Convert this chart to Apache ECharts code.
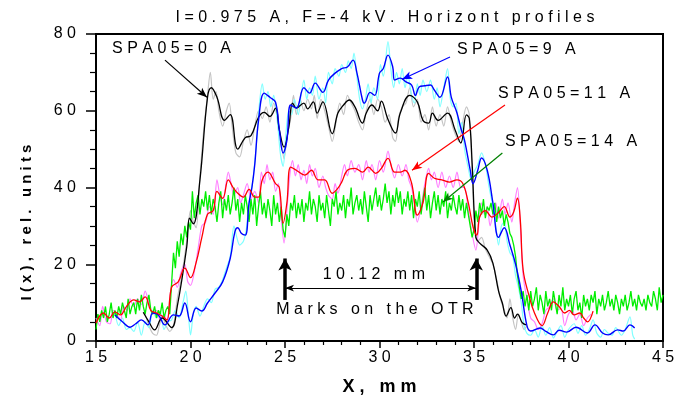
<!DOCTYPE html>
<html>
<head>
<meta charset="utf-8">
<script src="https://cdn.jsdelivr.net/npm/echarts@6/dist/echarts.min.js"></script>
<style>
  html, body { margin: 0; padding: 0; background: #fff; }
  #chart { width: 687px; height: 405px; }
</style>
</head>
<body>
<div id="chart"></div>
<script>
// SPA05 = 0 A, smoothed (black) and raw (gray)
const spa0 = [[17.5,7.5],[17.8,5],[18.1,2.9],[18.5,6],[19.0,3.5],[19.3,9],[19.8,24.5],[19.95,32],[20.15,30.5],[20.5,42],[20.9,63.5],[21.1,66],[21.4,63.5],[21.8,57.5],[22.1,59],[22.5,50],[22.9,53],[23.2,53.5],[23.6,58.3],[23.9,59.6],[24.2,58.5],[24.5,60.7],[24.7,55],[24.95,50.5],[25.2,55.7],[25.4,62],[25.6,60.7],[26.0,62],[26.2,60.5],[26.5,62.3],[26.7,59.4],[27.0,62.3],[27.5,54],[27.8,59.4],[28.1,61.5],[28.4,62.8],[28.7,61],[29.1,56.8],[29.3,59.4],[29.6,61.5],[29.9,60],[30.1,62.5],[30.4,58.4],[30.7,55],[30.85,54.2],[31.1,59.4],[31.6,64],[32.0,62.3],[32.3,57.5],[32.6,56.8],[32.8,59.4],[33.1,57.5],[33.6,59.4],[34.0,55],[34.3,51.6],[34.6,58.9],[34.75,58],[34.9,46.4],[35.1,27],[35.3,25.5],[35.7,23.7],[36.0,20.3],[36.3,13],[36.5,9.9],[36.7,6.5],[36.95,8.7],[37.15,6],[37.3,7],[37.55,4.8],[37.75,4.2]];
const spa0raw = [[17.6,7],[17.8,4],[18.0,2],[18.2,1.5],[18.35,4],[18.5,6.5],[18.7,4],[18.9,2.5],[19.1,4],[19.3,11],[19.5,16],[19.8,26],[20.0,34],[20.15,31],[20.3,29.5],[20.5,43],[20.7,55],[20.9,64],[21.05,70],[21.2,63],[21.35,65],[21.5,60],[21.7,56],[21.9,60],[22.05,62],[22.2,56],[22.4,49],[22.6,48],[22.8,52],[23.0,55],[23.2,51],[23.4,56],[23.6,60],[23.8,58],[24.0,61],[24.2,57],[24.4,62],[24.6,58],[24.8,52],[24.95,47.5],[25.1,53],[25.3,58],[25.45,64],[25.6,59],[25.8,63],[26.0,60],[26.2,63],[26.4,60.5],[26.55,64],[26.7,58],[26.9,63],[27.1,60],[27.3,56],[27.5,52],[27.7,57],[27.9,62],[28.1,59],[28.3,64],[28.5,62],[28.7,60],[28.9,57],[29.1,55],[29.3,60],[29.5,63],[29.7,59],[29.9,63],[30.1,61],[30.3,57],[30.5,59],[30.7,53],[30.85,52],[31.0,58],[31.2,61],[31.4,62],[31.6,66],[31.8,61],[32.0,63],[32.2,57],[32.4,59],[32.6,55],[32.8,61],[33.0,56],[33.2,59],[33.4,56],[33.6,61],[33.8,57],[34.0,54],[34.2,52],[34.4,57],[34.6,61],[34.75,59],[34.9,44],[35.05,28],[35.2,26],[35.4,27],[35.6,24],[35.8,22],[36.0,20],[36.2,16],[36.4,11],[36.6,8],[36.75,6],[36.9,11],[37.05,6],[37.2,3],[37.35,7],[37.5,5],[37.65,3],[37.8,4]];

// SPA05 = 9 A, smoothed (blue) and raw (cyan)
const spa9 = [[16.0,6.8],[16.4,5],[16.8,3.6],[17.1,4.5],[17.4,5.5],[17.75,4.2],[18.0,7.3],[18.3,6.8],[18.65,4.2],[19.1,6.8],[19.4,6.5],[19.7,9.9],[20.0,5],[20.3,8.6],[20.6,7.8],[20.9,9.9],[21.3,12.5],[21.7,15.4],[22.1,21.5],[22.35,28.5],[22.5,29.5],[22.7,28],[22.9,27.6],[23.1,36],[23.25,40],[23.4,46],[23.6,57.5],[23.9,64.6],[24.2,63.5],[24.5,62.2],[24.7,55],[24.9,49],[25.1,52.3],[25.3,61.5],[25.6,60.7],[26.0,66],[26.3,64.6],[26.6,67.2],[27.0,64.8],[27.3,68],[27.65,69.8],[28.0,71],[28.3,71.4],[28.6,73.2],[28.8,70],[29.1,62.8],[29.2,62],[29.5,64.8],[29.75,64],[30.0,69.8],[30.2,71],[30.45,74.5],[30.7,71.4],[30.8,68],[31.1,68.5],[31.4,67.5],[31.7,66.7],[31.9,64],[32.1,66.2],[32.4,66.5],[32.7,66.7],[32.9,65.4],[33.2,63.5],[33.6,68.8],[33.8,63.5],[34.1,59.4],[34.3,55.5],[34.5,52.3],[34.8,44.5],[34.95,41],[35.2,44.5],[35.4,47.7],[35.7,44.5],[36.0,36],[36.3,27],[36.6,29.5],[36.9,25],[37.2,20],[37.5,13],[37.8,4],[38.0,2.6],[38.5,3.4],[38.8,2.5],[39.2,1.6],[39.5,2.8],[39.9,2.3],[40.4,3.6],[41.0,2.1],[41.4,4.2],[41.8,2.1],[42.1,1.6],[42.6,2.9],[42.9,2.6],[43.25,4.2],[43.5,3.4]];
const spa9raw = [[16.0,7.5],[16.2,4],[16.4,6],[16.6,3],[16.8,3.5],[17.0,2.5],[17.2,5],[17.4,1.5],[17.6,5],[17.8,3.5],[18.0,8],[18.2,6],[18.4,7.5],[18.6,3],[18.8,5],[19.0,5.5],[19.2,8],[19.4,6],[19.6,10],[19.75,13],[19.9,6],[20.0,1.6],[20.15,7],[20.3,9],[20.5,6.5],[20.7,9],[20.9,11],[21.1,10],[21.3,13.5],[21.5,14],[21.7,16],[21.9,19],[22.1,22],[22.3,30],[22.45,27],[22.6,25],[22.8,26],[22.95,29],[23.1,36],[23.3,42],[23.5,52],[23.65,62],[23.8,67],[23.95,63],[24.1,65],[24.25,61],[24.4,64],[24.6,57],[24.75,49],[24.9,45.5],[25.05,54],[25.2,60],[25.35,59],[25.5,63],[25.7,59],[25.85,64],[26.0,68],[26.15,63],[26.3,66],[26.45,64],[26.6,69],[26.8,63],[27.0,66],[27.15,62],[27.3,70],[27.5,67],[27.65,71],[27.85,69],[28.0,72],[28.2,70],[28.35,73],[28.5,71],[28.65,75],[28.8,69],[28.95,63],[29.1,60.5],[29.25,63],[29.4,67],[29.55,62],[29.7,66],[29.9,63],[30.05,72],[30.2,69],[30.45,78],[30.6,71],[30.75,66],[30.9,70],[31.05,67],[31.2,71],[31.35,66],[31.5,69],[31.7,64],[31.85,62],[32.0,67],[32.15,64],[32.3,68],[32.5,65],[32.7,68],[32.9,63],[33.05,66],[33.2,61],[33.4,66],[33.6,71],[33.75,63],[33.9,61],[34.05,62],[34.2,54],[34.35,57],[34.5,50],[34.7,45],[34.85,42],[35.0,44],[35.2,46],[35.4,49],[35.6,46],[35.8,40],[36.0,35],[36.15,30],[36.3,25],[36.45,30],[36.6,31],[36.75,26],[36.9,23],[37.05,22],[37.2,17],[37.35,14],[37.5,10],[37.65,4],[37.8,2],[38.0,1.5],[38.2,3],[38.4,1],[38.6,4],[38.8,1.5],[39.0,3.5],[39.2,0.8],[39.4,2.5],[39.6,4],[39.8,1],[40.0,3],[40.3,4.5],[40.5,2],[40.7,4],[40.9,1.5],[41.1,3],[41.3,5.5],[41.5,2],[41.7,1],[41.9,3],[42.1,2],[42.3,1.5],[42.5,3.5],[42.8,1.5],[43.0,3],[43.25,6.3],[43.4,1.5],[43.5,0.5]];

// SPA05 = 11 A, smoothed (red) and raw (magenta)
const spa11 = [[15.0,4.7],[15.4,7.3],[15.7,6],[16.0,7.6],[16.3,6.8],[16.6,8.9],[17.0,10.7],[17.3,10.2],[17.6,11.5],[17.9,8],[18.2,7.3],[18.5,6.5],[18.75,5.5],[19.0,14],[19.35,15.4],[19.7,19],[20.0,16.5],[20.3,20.5],[20.6,27],[20.9,33],[21.2,34],[21.4,39],[21.7,37.2],[22.0,42],[22.25,40],[22.5,38.5],[22.8,37.5],[23.1,39.5],[23.4,37.5],[23.6,37.5],[23.8,42],[24.1,44],[24.5,41],[24.7,40],[24.9,30.7],[25.1,36],[25.3,45.3],[25.6,44.5],[26.05,43.2],[26.4,44.5],[26.75,42],[27.1,42],[27.5,38.5],[27.75,39.5],[28.0,41.4],[28.3,44.5],[28.7,45],[29.1,44],[29.4,45.3],[29.8,43.7],[30.1,45],[30.45,47.6],[30.8,44],[31.1,44],[31.35,44.5],[31.7,41.1],[32.0,32.8],[32.3,36],[32.6,43.7],[32.9,42.4],[33.3,42],[33.7,41.4],[34.1,42],[34.4,41.1],[34.7,36],[34.95,29.7],[35.15,27.6],[35.3,32.3],[35.6,34],[35.95,32.3],[36.3,33.5],[36.6,35],[36.9,32.3],[37.1,33.6],[37.3,37.2],[37.45,31.5],[37.6,18.5],[37.9,12],[38.2,7.3],[38.6,4],[38.9,7.3],[39.2,10.2],[39.5,9],[39.8,7.3],[40.05,8],[40.3,6.8],[40.6,7.3],[40.8,6],[41.0,5],[41.3,7.8]];
const spa11raw = [[15.0,6],[15.2,4],[15.35,9],[15.55,5],[15.75,4.5],[15.9,8],[16.1,7],[16.3,5.5],[16.45,9],[16.65,8],[16.8,11],[17.0,9],[17.2,11],[17.4,9.5],[17.6,13],[17.8,10],[18.0,7],[18.2,8],[18.4,5.5],[18.6,7],[18.75,4.5],[18.95,13],[19.1,16],[19.3,14],[19.5,18],[19.7,20],[19.85,15.5],[20.0,14.5],[20.2,18],[20.4,24],[20.6,30],[20.8,31],[21.0,35],[21.2,33],[21.4,42],[21.55,38],[21.7,35.5],[21.85,40],[22.0,44],[22.15,41],[22.3,38],[22.5,40],[22.65,36],[22.8,38],[23.0,41],[23.2,37],[23.4,39],[23.6,36],[23.75,44],[23.9,41],[24.05,46],[24.2,42],[24.35,44],[24.5,39],[24.65,41],[24.8,32],[24.95,25.5],[25.1,34],[25.25,43],[25.4,47],[25.55,43],[25.7,46],[25.85,42],[26.0,44.5],[26.15,41],[26.3,46],[26.45,43],[26.6,45],[26.8,40],[27.0,43],[27.15,40],[27.3,38],[27.5,37],[27.65,41],[27.8,38.5],[28.0,43],[28.15,46],[28.3,43],[28.5,47],[28.7,44],[28.9,46],[29.1,42],[29.3,47],[29.45,44],[29.6,46],[29.8,42],[30.0,47],[30.2,44],[30.45,49.5],[30.6,46],[30.8,42.5],[31.0,46],[31.2,43],[31.4,46],[31.55,42],[31.7,40],[31.85,36],[32.0,31],[32.2,35],[32.4,41],[32.6,45],[32.75,42],[32.9,44],[33.1,40],[33.3,44],[33.5,40],[33.7,43],[33.9,40],[34.1,44],[34.3,40],[34.5,40],[34.7,34],[34.9,28],[35.1,23.7],[35.25,30],[35.4,36],[35.55,33],[35.7,35],[35.85,30],[36.0,33],[36.15,36],[36.3,32],[36.5,37],[36.65,33],[36.8,36],[37.0,31],[37.15,36],[37.3,40],[37.45,30],[37.6,17],[37.8,11],[38.0,6],[38.2,5],[38.4,3],[38.6,4.5],[38.8,8],[39.0,9],[39.2,11],[39.4,8],[39.6,8.5],[39.8,4],[40.0,7],[40.2,8],[40.4,5.5],[40.6,7],[40.8,4],[41.0,6],[41.2,7]];

// SPA05 = 14 A (green), sampled every 0.1 mm from 15.0 mm
const spa14Start = 15.0;
const spa14Step = 0.1;
const spa14 = [
  3,7,5,8,6,9,5,7,10,6,
  8,6,9,7,10,8,6,11,7,9,
  10,7,11,8,12,9,7,10,12,8,
  7,9,6,8,7,10,6,8,9,7,
  15,23,19,26,22,28,25,30,27,31,
  29,39,32,36,38,33,37,35,39,34,
  38,33,37,35,31,36,39,32,37,34,
  38,33,36,40,34,37,31,36,33,38,
  35,31,37,33,38,30,35,39,33,36,
  32,37,34,30,38,33,36,31,35,29,
  27,33,30,36,34,38,32,36,33,37,
  31,36,34,39,33,37,35,31,38,34,
  36,32,38,34,30,37,35,39,33,36,
  34,38,32,37,35,40,33,36,38,34,
  37,33,39,35,31,38,34,37,40,35,
  38,34,37,41,36,39,33,38,35,40,
  36,39,33,37,35,39,34,38,32,37,
  35,39,33,37,40,34,38,32,36,39,
  34,38,33,37,35,39,32,36,34,38,
  35,33,38,34,37,32,36,33,30,27,
  29,34,31,36,33,37,32,35,34,36,
  33,36,31,35,32,34,30,33,31,28,
  27,25,22,17,14,11,13,9,12,8,
  13,9,11,14,8,12,10,7,13,9,
  11,8,13,10,7,12,9,14,8,11,
  9,12,7,11,13,8,10,6,12,9,
  11,8,12,10,13,7,11,9,12,8,
  10,13,9,11,8,12,10,7,11,9,
  12,8,10,13,9,11,8,12,10,9,
  11,8,12,10,9,13,11,8,14,10,
  12
];

const titleText = 'I=0.975 A, F=-4 kV. Horizont profiles';
const xName = 'X, mm';
const yName = 'I(x), rel. units';

// annotations, in data units
const noteTexts = ['SPA05=0 A', 'SPA05=9 A', 'SPA05=11 A', 'SPA05=14 A', '10.12 mm', 'Marks on the OTR'];
const notePos = [[15.85, 76.3], [34.1, 76.0], [36.27, 64.5], [36.64, 52.0], [29.7, 17.4], [29.76, 8.3]];
const pointerFrom = [[18.65, 73.2], [33.73, 74.0], [36.64, 61.5], [36.5, 49.0]];
const pointerTo = [[20.87, 63.5], [31.2, 68.2], [31.72, 44.5], [33.36, 36.2]];
const markX = [25.0, 35.12];
const markY = [10.7, 21.5];
const spanY = 13.8;

const sp = s => String(s).split('').join(' ');
const font = 'Liberation Sans, Arial, sans-serif';

const spa14Data = spa14.map((v, i) => [+(spa14Start + i * spa14Step).toFixed(2), v]);

const pointerColors = ['#000000', '#0000ff', '#ff0000', '#008000'];
const noteAlign = ['left', 'left', 'left', 'left', 'center', 'center'];

const markLines = pointerFrom.map((f, i) => [
  { coord: f, symbol: 'none', lineStyle: { color: pointerColors[i], width: 1.2 } },
  { coord: pointerTo[i], symbol: 'arrow', symbolSize: [6, 10] }
]);
markX.forEach(x => {
  markLines.push([
    { coord: [x, markY[0]], symbol: 'none', lineStyle: { color: '#000', width: 3.5 } },
    { coord: [x, markY[1]], symbol: 'arrow', symbolSize: [10, 12] }
  ]);
});
markLines.push([
  { coord: [markX[0], spanY], symbol: 'arrow', symbolSize: [5, 9], lineStyle: { color: '#000', width: 1 } },
  { coord: [markX[1], spanY], symbol: 'arrow', symbolSize: [5, 9] }
]);

const markPoints = noteTexts.map((t, i) => ({
  coord: notePos[i],
  label: { formatter: sp(t), align: noteAlign[i] }
}));

function line(name, data, color, width, smooth, z) {
  return {
    name, type: 'line', data, showSymbol: false, smooth, z,
    lineStyle: { color, width }, itemStyle: { color },
    silent: true, animation: false
  };
}

const chart = echarts.init(document.getElementById('chart'));
chart.setOption({
  animation: false,
  backgroundColor: '#fff',
  title: {
    text: sp(titleText), left: 380, top: 5, textAlign: 'center',
    textStyle: { fontFamily: font, fontSize: 16, fontWeight: 'normal', color: '#000' }
  },
  grid: { left: 96, right: 24, top: 34, bottom: 64, show: true, borderColor: '#000', borderWidth: 2 },
  xAxis: {
    type: 'value', min: 15, max: 45, interval: 5,
    name: sp(xName), nameLocation: 'middle', nameGap: 37,
    nameTextStyle: { fontFamily: font, fontSize: 18, fontWeight: 'bold', color: '#000' },
    axisLine: { lineStyle: { color: '#000', width: 2 } },
    axisTick: { length: 7, lineStyle: { color: '#000', width: 1.5 } },
    minorTick: { show: true, splitNumber: 5, length: 4, lineStyle: { color: '#000', width: 1.2 } },
    splitLine: { show: false },
    axisLabel: { formatter: v => sp(v), fontFamily: font, fontSize: 16, color: '#000', margin: 9 }
  },
  yAxis: {
    type: 'value', min: 0, max: 80, interval: 20,
    name: sp(yName), nameLocation: 'middle', nameGap: 62,
    nameTextStyle: { fontFamily: font, fontSize: 15, fontWeight: 'bold', color: '#000', padding: [0, 70, 0, 0] },
    axisLine: { lineStyle: { color: '#000', width: 2 } },
    axisTick: { length: 10, lineStyle: { color: '#000', width: 1.5 } },
    minorTick: { show: true, splitNumber: 4, length: 6, lineStyle: { color: '#000', width: 1.2 } },
    splitLine: { show: false },
    axisLabel: { formatter: v => sp(v), fontFamily: font, fontSize: 16, color: '#000', margin: 20 }
  },
  series: [
    line('SPA05=0 A raw', spa0raw, '#c4c4c4', 1.2, 0.3, 1),
    line('SPA05=9 A raw', spa9raw, '#80ffff', 1.2, 0.3, 1),
    line('SPA05=11 A raw', spa11raw, '#ff80ff', 1.2, 0.3, 1),
    line('SPA05=14 A', spa14Data, '#00ee00', 1.3, false, 2),
    line('SPA05=0 A', spa0, '#000000', 1.3, 0.4, 3),
    line('SPA05=9 A', spa9, '#0000ff', 1.4, 0.4, 3),
    line('SPA05=11 A', spa11, '#ff0000', 1.3, 0.4, 3),
    {
      name: 'notes', type: 'line', data: [], z: 5, silent: true, animation: false,
      markLine: { silent: true, animation: false, label: { show: false }, lineStyle: { type: 'solid' }, data: markLines },
      markPoint: {
        silent: true, animation: false, symbol: 'circle', symbolSize: 1,
        itemStyle: { color: 'rgba(0,0,0,0)' },
        label: { show: true, position: 'inside', verticalAlign: 'middle', fontFamily: font, fontSize: 16, color: '#000' },
        data: markPoints
      }
    }
  ]
});
</script>
</body>
</html>
